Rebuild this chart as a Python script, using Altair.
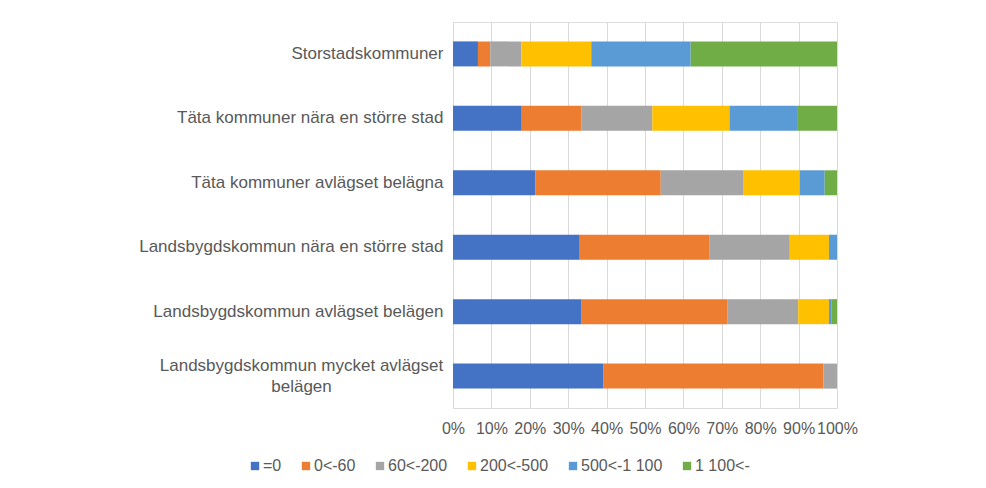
import altair as alt
import pandas as pd

categories = [
    "Storstadskommuner",
    "Täta kommuner nära en större stad",
    "Täta kommuner avlägset belägna",
    "Landsbygdskommun nära en större stad",
    "Landsbygdskommun avlägset belägen",
    "Landsbygdskommun mycket avlägset belägen",
]
series = ["=0", "0<-60", "60<-200", "200<-500", "500<-1 100", "1 100<-"]
colors = ["#4472C4", "#ED7D31", "#A5A5A5", "#FFC000", "#5B9BD5", "#70AD47"]

s_eq0 = [6.5, 17.9, 21.4, 33.0, 33.5, 39.1]
s_0_60 = [3.2, 15.6, 32.7, 33.7, 37.9, 57.4]
s_60_200 = [8.1, 18.4, 21.6, 21.0, 18.5, 3.5]
s_200_500 = [18.2, 20.1, 14.6, 10.2, 8.0, 0.0]
s_500_1100 = [25.9, 17.6, 6.5, 2.1, 0.6, 0.0]
s_1100 = [38.1, 10.4, 3.2, 0.0, 1.5, 0.0]

values = [s_eq0, s_0_60, s_60_200, s_200_500, s_500_1100, s_1100]
rows = []
for si, (name, vals) in enumerate(zip(series, values)):
    for ci, cat in enumerate(categories):
        rows.append({"kategori": cat, "grupp": name, "ordning": si, "andel": vals[ci] / 100.0})
df = pd.DataFrame(rows)

font = "Liberation Sans"
txt = "#595959"
long_label = "Landsbygdskommun mycket avlägset belägen"
is_long = "datum.value == '" + long_label + "'"

chart = alt.Chart(df).mark_bar(size=25).encode(
    y=alt.Y(
        "kategori:N",
        sort=categories,
        title=None,
        scale=alt.Scale(paddingInner=0.61, paddingOuter=0.3),
        axis=alt.Axis(
            domain=False,
            ticks=False,
            labelFontSize=17,
            labelFont=font,
            labelColor=txt,
            labelPadding={"condition": {"test": is_long, "value": 152}, "value": 10},
            labelAlign={"condition": {"test": is_long, "value": "center"}, "value": "right"},
            labelOffset={"condition": {"test": is_long, "value": -10}, "value": 0},
            labelLimit=400,
            labelLineHeight=21,
            labelExpr="datum.label == '" + long_label + "' ? ['Landsbygdskommun mycket avlägset', 'belägen'] : datum.label",
        ),
    ),
    x=alt.X(
        "andel:Q",
        stack="normalize",
        title=None,
        scale=alt.Scale(domain=[0, 1], nice=False),
        axis=alt.Axis(
            format=".0%",
            values=[i / 10 for i in range(11)],
            domain=False,
            ticks=False,
            grid=True,
            gridColor="#D9D9D9",
            gridWidth=1,
            labelFontSize=16,
            labelFont=font,
            labelColor=txt,
            labelPadding=12,
            labelFlush=False,
            labelOverlap=False,
        ),
    ),
    color=alt.Color(
        "grupp:N",
        sort=series,
        scale=alt.Scale(domain=series, range=colors),
        legend=alt.Legend(
            title=None,
            orient="none",
            direction="horizontal",
            columns=6,
            legendX=-206,
            legendY=436,
            symbolType="square",
            symbolSize=70,
            symbolStrokeWidth=0,
            labelFontSize=16,
            labelFont=font,
            labelColor=txt,
            labelOffset=0,
            columnPadding=16,
        ),
    ),
    order=alt.Order("ordning:Q", sort="ascending"),
).properties(
    width=384,
    height=386,
    autosize=alt.AutoSizeParams(type="none"),
    padding={"left": 445, "top": 14, "right": 140, "bottom": 70},
).configure_view(stroke=None).configure(background="white")

chart.save("out.html", embed_options={"renderer": "svg", "actions": False})
